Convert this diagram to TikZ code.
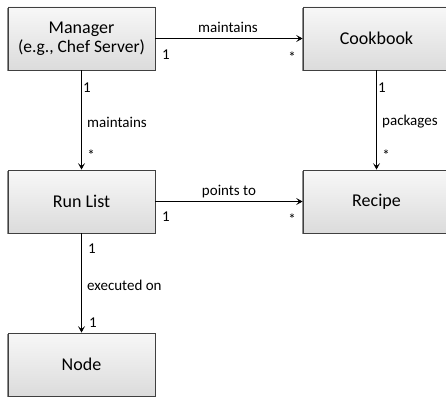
\documentclass[tikz,border=0pt]{standalone}
\usepackage{fontspec}
\setmainfont{Carlito}
\usetikzlibrary{arrows.meta,shadows}

\tikzset{
  entity/.style={
    draw=black!75, line width=0.8pt,
    minimum width=147pt, minimum height=63pt,
    top color=gray!6, bottom color=gray!28,
    inner sep=0pt, align=center, font=\fontsize{18}{20}\selectfont,
    drop shadow={shadow xshift=-0.8pt, shadow yshift=-1.2pt, opacity=0.45, fill=black}
  },
  assoc/.style={line width=1.2pt, -{Stealth[length=6.5pt,width=7pt,inset=3pt]}},
  lbl/.style={font=\fontsize{15}{17}\selectfont, inner sep=0pt},
  mult/.style={font=\fontsize{15}{17}\selectfont, inner sep=0pt}
}

\begin{document}
\begin{tikzpicture}[x=1pt,y=-1pt]
  \useasboundingbox (0,0) rectangle (446,401);

  % classes
  \node[entity] (mgr) at (81.5,38.5) {Manager\\[-1pt]{\fontsize{17.5}{20}\selectfont (e.g., Chef Server)}};
  \node[entity] (cb)  at (376.5,38.5) {Cookbook};
  \node[entity] (rl)  at (81.5,201.5) {Run List};
  \node[entity] (rc)  at (376.5,201.5) {Recipe};
  \node[entity] (nd)  at (81.5,364.5) {Node};

  % associations
  \draw[assoc] (mgr.east) -- (cb.west);
  \draw[assoc] (mgr.south) -- (rl.north);
  \draw[assoc] (cb.south) -- (rc.north);
  \draw[assoc] (rl.east) -- (rc.west);
  \draw[assoc] (rl.south) -- (nd.north);

  % Manager -> Cookbook
  \node[lbl] (l1) at (228,27) {maintains};
  \node[mult] (m1a) at (166,55) {1};
  \node[mult] (m1b) at (292,57) {*};

  % Manager -> Run List
  \node[mult] (m2a) at (87,88) {1};
  \node[lbl, anchor=west] (l2) at (87,122) {maintains};
  \node[mult] (m2b) at (91,155) {*};

  % Cookbook -> Recipe
  \node[mult] (m3a) at (382,88) {1};
  \node[lbl, anchor=west] (l3) at (382,122) {packages};
  \node[mult] (m3b) at (386,155) {*};

  % Run List -> Recipe
  \node[lbl] (l4) at (229,192) {points to};
  \node[mult] (m4a) at (166,217) {1};
  \node[mult] (m4b) at (292,219) {*};

  % Run List -> Node
  \node[mult] (m5a) at (92,249) {1};
  \node[lbl, anchor=west] (l5) at (87,285) {executed on};
  \node[mult] (m5b) at (93,323) {1};
\end{tikzpicture}
\end{document}
